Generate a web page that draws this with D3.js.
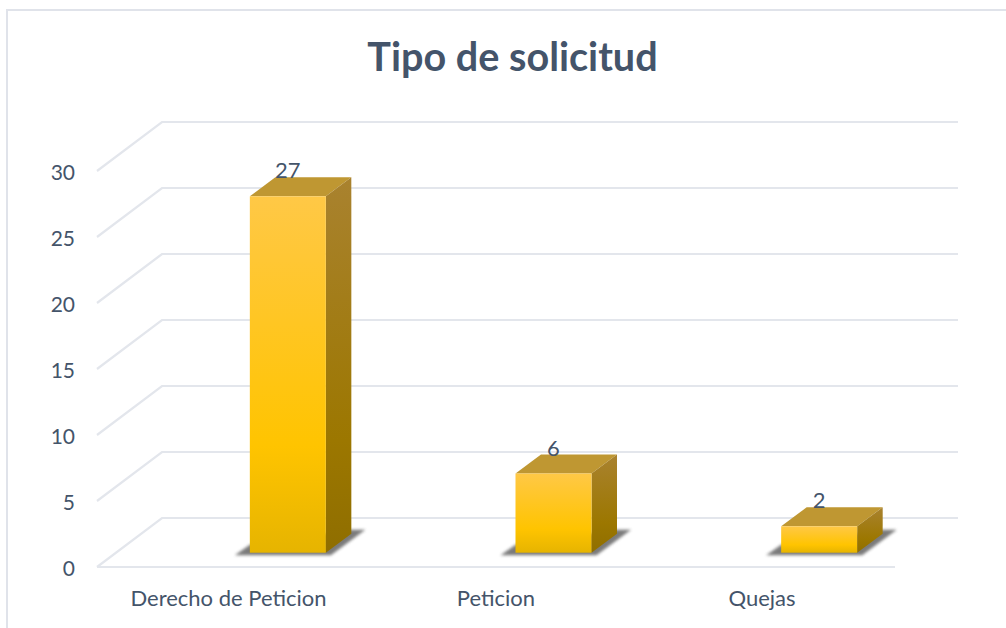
<!DOCTYPE html>
<html><head><meta charset="utf-8">
<script src="https://cdn.jsdelivr.net/npm/d3@7"></script>
<style>html,body{margin:0;padding:0;background:#fff}svg{display:block}text{font-family:Lato,sans-serif;fill:#44546a}</style>
</head><body><svg id="c" width="1006" height="628"></svg>
<script>
const categories = ["Derecho de Peticion", "Peticion", "Quejas"];
const values = [27, 6, 2];
const yTicks = [0, 5, 10, 15, 20, 25, 30];
const titleText = "Tipo de solicitud";

const svg = d3.select("#c");
const wallDx = 65, wallDy = -49, barDx = 25.5, barDy = -19, barLift = 14.3;
const y = d3.scaleLinear().domain([0, 30]).range([567, 171]);
const xLabel = d3.scaleBand().domain(categories).range([97, 895]);
const xBar = d3.scaleBand().domain(categories).range([155, 952]);
const barW = 76;

const defs = svg.append("defs");
function grad(id, stops) {
  const g = defs.append("linearGradient").attr("id", id).attr("x1", 0).attr("y1", 0).attr("x2", 0).attr("y2", 1);
  stops.forEach(s => g.append("stop").attr("offset", s[0]).attr("stop-color", s[1]));
}
grad("front", [[0, "#ffc846"], [0.7, "#ffc400"], [1, "#e6b400"]]);
grad("side", [[0, "#a9822f"], [0.7, "#9c7700"], [1, "#8f6e00"]]);
defs.append("filter").attr("id", "blur").attr("x", "-20%").attr("y", "-60%").attr("width", "140%").attr("height", "220%")
  .append("feGaussianBlur").attr("stdDeviation", 1.8);

// chart frame: left and top edges only
svg.append("path").attr("d", "M7 628V10H1006").attr("fill", "none").attr("stroke", "#e0e3ea").attr("stroke-width", 2);

// title
svg.append("text").attr("x", 512.5).attr("y", 71).attr("text-anchor", "middle")
  .attr("font-size", 39.6).attr("font-weight", 700).text(titleText);

// walls / gridlines
const gridColor = "#e3e6ec";
const grid = svg.append("g").attr("fill", "none").attr("stroke", gridColor).attr("stroke-width", 2.2);
yTicks.forEach(t => {
  const py = y(t);
  grid.append("path").attr("d", `M${xLabel.range()[0]} ${py}L${xLabel.range()[0] + wallDx} ${py + wallDy}H958`);
});
grid.append("path").attr("d", `M97 ${y(0)}H895`);

// y tick labels
svg.append("g").selectAll("text").data(yTicks).join("text")
  .attr("x", 75).attr("y", d => y(d) + 9).attr("text-anchor", "end").attr("font-size", 21).text(d => d);

// category labels
svg.append("g").selectAll("text").data(categories).join("text")
  .attr("x", d => xLabel(d) + xLabel.bandwidth() / 2 - (d === categories[0] ? 1.5 : 0)).attr("y", 605.5)
  .attr("text-anchor", "middle").attr("font-size", 22).text(d => d);

// bars
const base = y(0) - barLift;
const h = d3.scaleLinear().domain([0, 30]).range([0, 396]);
categories.forEach((c, i) => {
  const v = values[i];
  const x0 = xBar(c) + xBar.bandwidth() / 2 - barW / 2, x1 = x0 + barW;
  const top = base - h(v);
  const g = svg.append("g");
  // floor shadow
  g.append("path").attr("filter", "url(#blur)").attr("fill", "#5a5a5a").attr("opacity", 0.8)
    .attr("d", `M${x0 - 15} ${base + 2.5}L${x0} ${base - 8}L${x1 + barDx} ${base + barDy - 4}H${x1 + barDx + 14}L${x1 + 5} ${base + 2.5}Z`);
  g.append("path").attr("fill", "#bf9732")
    .attr("d", `M${x0} ${top}L${x0 + barDx} ${top + barDy}H${x1 + barDx}L${x1} ${top}Z`);
  g.append("path").attr("fill", "url(#side)")
    .attr("d", `M${x1} ${top}L${x1 + barDx} ${top + barDy}V${base + barDy}L${x1} ${base}Z`);
  g.append("rect").attr("x", x0).attr("y", top).attr("width", barW).attr("height", base - top).attr("fill", "url(#front)");
  g.append("text").attr("x", x0 + 38).attr("y", top - 18).attr("text-anchor", "middle").attr("font-size", 22).text(v);
});
</script></body></html>
